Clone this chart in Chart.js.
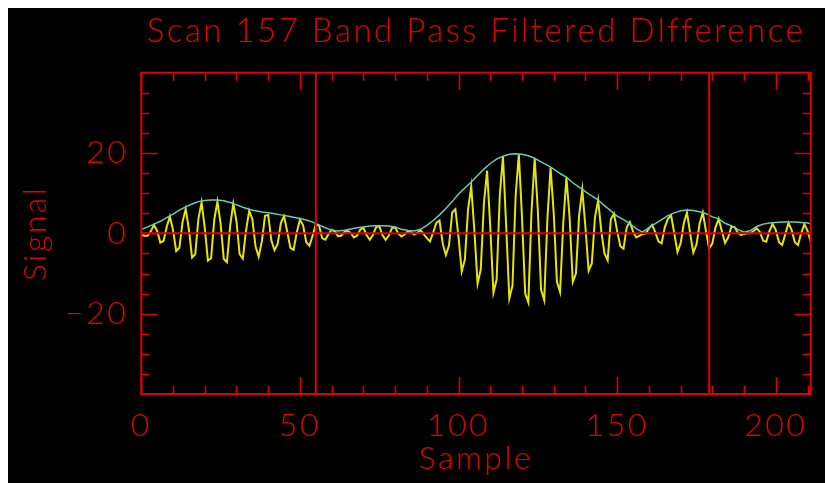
<!DOCTYPE html>
<html>
<head>
<meta charset="utf-8">
<script src="https://cdn.jsdelivr.net/npm/chart.js@4/dist/chart.umd.min.js"></script>
<style>
  html, body { margin: 0; padding: 0; overflow: hidden; background: #fff; }
  #plot { position: absolute; left: 8px; top: 8px; background: #000; }
</style>
</head>
<body>
<canvas id="plot" width="817" height="475"></canvas>
<script>
// Band-pass filtered difference signal, one value per sample (0..211)
const signal = [
  -0.4, -0.6, -0.6, 0.5, 2.1, 0.6, -2.3, -1.9, 1.6, 4.2,
  0.8, -4.4, -3.6, 2.8, 6.1, 1.0, -6.0, -5.2, 3.6, 7.7,
  1.4, -6.8, -6.2, 3.4, 7.9, 2.4, -6.4, -7.2, 1.8, 7.4,
  3.0, -5.2, -6.3, 0.6, 5.6, 3.6, -3.2, -5.8, -2.0, 4.4,
  4.6, -1.8, -4.2, -2.6, 2.6, 4.3, 0.4, -3.6, -4.1, 0.2,
  3.4, 2.0, -2.2, -3.1, -0.6, 2.2, 2.0, -1.2, -1.6, -0.2,
  0.9, 0.5, -0.7, -0.6, 0.3, 0.6, 0.1, -1.0, -0.6, 0.9,
  1.4, -0.4, -1.6, -0.4, 1.5, 1.8, -0.4, -1.6, -0.6, 1.3,
  1.5, 0.0, -0.8, -0.3, 0.5, 0.3, -0.3, 0.1, 0.8, -0.2,
  -1.2, -2.0, 0.2, 2.6, 3.2, -2.5, -5.4, -3.0, 5.2, 6.0,
  -1.0, -9.5, -6.5, 6.0, 11.7, 0.5, -12.5, -9.0, 7.5, 15.6,
  1.5, -14.8, -11.5, 9.5, 19.2, 2.0, -16.2, -13.0, 9.5, 19.7,
  4.0, -15.0, -17.2, 5.5, 18.7, 5.5, -14.0, -16.6, 3.5, 16.4,
  5.0, -12.0, -14.6, 2.5, 13.9, 4.0, -12.1, -10.0, 4.5, 10.9,
  1.5, -9.3, -7.5, 4.0, 8.3, 0.5, -5.0, -6.7, 3.5, 4.9,
  0.5, -3.2, -3.8, 1.5, 2.8, 0.5, -1.0, -0.6, -0.2, 0.0,
  1.2, 2.1, 0.3, -2.0, -2.5, 1.5, 3.6, 4.5, 0.0, -4.6,
  -2.5, 2.5, 5.2, 0.0, -4.8, -2.8, 2.5, 5.2, 0.5, -3.8,
  -2.5, 1.5, 3.6, 0.5, -2.4, -1.0, 1.6, 1.6, 0.2, -0.4,
  -0.2, 0.0, 0.0, 0.6, 1.3, 0.3, -1.8, -2.1, 0.6, 2.3,
  0.8, -2.2, -2.9, -0.2, 2.6, 0.8, -2.2, -2.9, 0.0, 2.3,
  0.6, -2.1
];

// Amplitude envelope of the signal
const envSample = [
  0, 2, 4, 6, 8, 10, 12, 14, 16, 18, 20, 22, 24, 26, 28, 30, 32, 34, 36, 38,
  40, 42, 44, 46, 48, 50, 52, 54, 56, 58, 60, 62, 64, 66, 68, 70, 72, 74, 76, 78,
  80, 82, 84, 86, 88, 90, 92, 94, 96, 98, 100, 102, 104, 106, 108, 110, 112, 114, 116, 118,
  120, 122, 124, 126, 128, 130, 132, 134, 136, 138, 140, 142, 144, 146, 148, 150, 152, 154, 156, 158,
  160, 162, 164, 166, 168, 170, 172, 174, 176, 178, 180, 182, 184, 186, 188, 190, 192, 194, 196, 198,
  200, 202, 204, 206, 208, 210, 211
];
const envValue = [
  1.0, 1.6, 2.3, 3.0, 3.9, 4.8, 5.8, 6.6, 7.3, 7.9, 8.2, 8.3, 8.3, 8.1, 7.7, 7.1, 6.5, 6.0, 5.6, 5.3,
  5.1, 4.9, 4.6, 4.3, 4.0, 3.7, 3.3, 2.8, 2.1, 1.4, 0.8, 0.6, 0.8, 1.1, 1.4, 1.6, 1.8, 1.9, 1.9, 1.8,
  1.6, 1.0, 0.7, 0.6, 1.0, 2.0, 3.2, 4.6, 6.2, 7.9, 9.8, 11.3, 12.8, 14.4, 16.0, 17.4, 18.5, 19.2, 19.7, 19.8,
  19.7, 19.3, 18.7, 17.8, 17.0, 16.0, 14.9, 14.0, 12.6, 11.5, 10.4, 9.3, 8.3, 6.9, 5.6, 4.3, 3.4, 2.4, 1.2, 0.3,
  1.4, 2.4, 3.4, 4.4, 5.1, 5.6, 5.8, 5.7, 5.4, 4.9, 4.1, 3.6, 2.5, 1.9, 1.0, 0.3, 0.7, 1.7, 2.3, 2.6,
  2.7, 2.8, 2.8, 2.8, 2.7, 2.6, 2.4
];

// Sample positions of the two vertical markers
const markerSamples = [55, 179];

// Axis ranges and tick positions
const xRange = [0, 211];
const yRange = [-40, 40];
const xTickValues = [0, 50, 100, 150, 200];
const xMinorTicks = [10, 20, 30, 40, 60, 70, 80, 90, 110, 120, 130, 140, 160, 170, 180, 190, 210];
const yTickValues = [-20, 0, 20];
const yMinorTicks = [-35, -30, -25, -15, -10, -5, 5, 10, 15, 25, 30, 35];

const RED = '#e00000';
const YELLOW = '#e6e600';
const CYAN = '#62cfb2';
const FONT = "Lato, 'DejaVu Sans', sans-serif";

// Thin vector-style lettering: a little extra tracking on every label
const letterSpacing = {
  id: 'letterSpacing',
  beforeDraw(chart) { chart.ctx.letterSpacing = '2.5px'; }
};

// Box around the plot with inward tick marks on all four sides
const frameTicks = {
  id: 'frameTicks',
  afterDatasetsDraw(chart) {
    const { ctx, chartArea: a, scales: { x, y } } = chart;
    ctx.save();
    ctx.strokeStyle = RED;
    ctx.lineWidth = 1.6;
    ctx.beginPath();
    const xt = (v, len) => {
      const px = Math.round(x.getPixelForValue(v)) + 0.5;
      ctx.moveTo(px, a.bottom); ctx.lineTo(px, a.bottom - len);
      ctx.moveTo(px, a.top); ctx.lineTo(px, a.top + len);
    };
    const yt = (v, len) => {
      const py = Math.round(y.getPixelForValue(v)) + 0.5;
      ctx.moveTo(a.left, py); ctx.lineTo(a.left + len, py);
      ctx.moveTo(a.right, py); ctx.lineTo(a.right - len, py);
    };
    xTickValues.forEach(v => xt(v, 17));
    xMinorTicks.forEach(v => xt(v, 8));
    yTickValues.forEach(v => yt(v, 16));
    yMinorTicks.forEach(v => yt(v, 8));
    ctx.stroke();
    ctx.lineWidth = 2;
    ctx.strokeRect(a.left, a.top, a.right - a.left, a.bottom - a.top);
    ctx.restore();
  }
};

const line = (points, color, width) => ({
  data: points, borderColor: color, borderWidth: width,
  pointRadius: 0, tension: 0, fill: false
});

const datasets = [
  line([{ x: xRange[0], y: 0 }, { x: xRange[1], y: 0 }], RED, 2),
  ...markerSamples.map(s => line([{ x: s, y: yRange[0] }, { x: s, y: yRange[1] }], RED, 2)),
  line(envSample.map((s, i) => ({ x: s, y: envValue[i] })), CYAN, 1.5),
  line(signal.map((v, i) => ({ x: i, y: v })), YELLOW, 2)
];

const labelFont = { family: FONT, size: 32, weight: 300 };

new Chart(document.getElementById('plot'), {
  type: 'line',
  data: { datasets },
  plugins: [letterSpacing, frameTicks],
  options: {
    responsive: false,
    animation: false,
    events: [],
    layout: { padding: { left: 0, right: 14.3, top: 0, bottom: 0 } },
    plugins: {
      legend: { display: false },
      tooltip: { enabled: false },
      title: {
        display: true,
        text: 'Scan 157 Band Pass Filtered DIfference',
        color: RED,
        fullSize: false,
        font: { family: FONT, size: 33, weight: 300, lineHeight: 1 },
        padding: { top: 7, bottom: 24.7 }
      }
    },
    scales: {
      x: {
        type: 'linear',
        min: xRange[0], max: xRange[1],
        grid: { display: false, drawTicks: false },
        border: { display: false },
        afterBuildTicks: s => { s.ticks = xTickValues.map(v => ({ value: v })); },
        afterFit: s => { s.height = 89; },
        ticks: { color: RED, font: labelFont, padding: 12, maxRotation: 0, autoSkip: false },
        title: {
          display: true, text: 'Sample', color: RED,
          font: { family: FONT, size: 32, weight: 300, lineHeight: 1 },
          padding: { top: 0, bottom: 8 }
        }
      },
      y: {
        type: 'linear',
        min: yRange[0], max: yRange[1],
        grid: { display: false, drawTicks: false },
        border: { display: false },
        afterBuildTicks: s => { s.ticks = yTickValues.map(v => ({ value: v })); },
        afterFit: s => { s.width = 133.3; },
        ticks: {
          color: RED, font: labelFont, padding: 13,
          callback: v => (v < 0 ? '\u2212' + Math.abs(v) : String(v))
        },
        title: {
          display: true, text: 'Signal', color: RED,
          font: { family: FONT, size: 32, weight: 300, lineHeight: 1 },
          padding: { top: 12, bottom: 0 }
        }
      }
    }
  }
});
</script>
</body>
</html>
